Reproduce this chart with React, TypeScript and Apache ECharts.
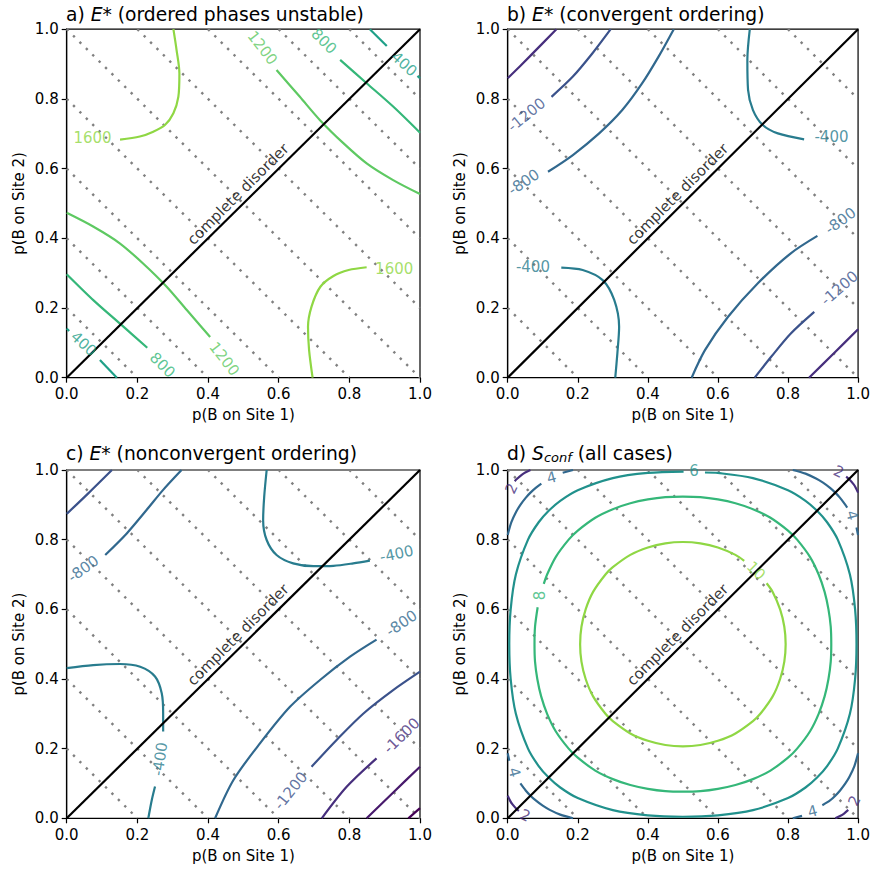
import React, { useEffect, useRef } from 'react';
import * as echarts from 'echarts';

const FONT = "'DejaVu Sans', sans-serif";

// ---------- axes ----------
const tickValues = [0.0, 0.2, 0.4, 0.6, 0.8, 1.0];
const xName = 'p(B on Site 1)';
const yName = 'p(B on Site 2)';

// ---------- guides (dotted lines of constant total composition) ----------
const guideLines = [
  [[0, 0.2], [0.2, 0]],
  [[0, 0.4], [0.4, 0]],
  [[0, 0.6], [0.6, 0]],
  [[0, 0.8], [0.8, 0]],
  [[0, 1.0], [1.0, 0]],
  [[0.2, 1.0], [1.0, 0.2]],
  [[0.4, 1.0], [1.0, 0.4]],
  [[0.6, 1.0], [1.0, 0.6]],
  [[0.8, 1.0], [1.0, 0.8]],
];
const disorderLine = [[0, 0], [1, 1]];
const disorderText = 'complete disorder';
const disorderAnchor = [0.5, 0.5];

// ---------- colours (viridis) ----------
const energyColors: Record<string, string> = {
  '-2400': '#440154', '-2000': '#481a6c', '-1600': '#472f7d', '-1200': '#3b528b',
  '-800': '#31688e', '-400': '#287c8e', '400': '#1fa088', '800': '#35b779',
  '1200': '#5ec962', '1600': '#8fd744',
};
const entropyColors: Record<string, string> = {
  '2': '#472f7d', '4': '#31688e', '6': '#21918c', '8': '#35b779', '10': '#8fd744',
};

// ---------- titles ----------
const titles = [
  '{n|a) }{i|E*}{n| (ordered phases unstable)}',
  '{n|b) }{i|E*}{n| (convergent ordering)}',
  '{n|c) }{i|E*}{n| (nonconvergent ordering)}',
  '{n|d) }{i|S}{sub|conf}{n| (all cases)}',
];

// ---------- panel a ----------
const a1600UL = [[0.302, 1.0], [0.311, 0.94], [0.319, 0.873], [0.316, 0.806], [0.302, 0.759], [0.278, 0.725], [0.245, 0.706], [0.207, 0.692], [0.151, 0.683]];
const a1600LR = [[0.696, 0.0], [0.686, 0.08], [0.683, 0.146], [0.693, 0.204], [0.718, 0.261], [0.755, 0.292], [0.798, 0.309], [0.849, 0.317]];
const a1200UR = [[0.594, 0.883], [0.66, 0.806], [0.717, 0.739], [0.783, 0.673], [0.849, 0.615], [0.924, 0.567], [1.0, 0.527]];
const a1200LL = [[0.0, 0.473], [0.076, 0.433], [0.151, 0.385], [0.217, 0.327], [0.283, 0.261], [0.34, 0.194], [0.406, 0.117]];
const a800UR = [[0.774, 0.912], [0.849, 0.845], [0.924, 0.778], [1.0, 0.703]];
const a800LL = [[0.0, 0.297], [0.076, 0.222], [0.151, 0.155], [0.228, 0.086]];
const a400UR = [[0.858, 1.0], [0.906, 0.952]];
const a400URtip = [[0.993, 0.866], [1.0, 0.859]];
const a400LL = [[0.094, 0.051], [0.142, 0.0]];
const a400LLtip = [[0.0, 0.141], [0.007, 0.134]];
const aContours: [string, number[][]][] = [
  ['1600', a1600UL], ['1600', a1600LR], ['1200', a1200UR], ['1200', a1200LL],
  ['800', a800UR], ['800', a800LL], ['400', a400UR], ['400', a400URtip], ['400', a400LL], ['400', a400LLtip],
];
const aLabels: [number, number, string, number][] = [
  [0.073, 0.689, '1600', 0], [0.927, 0.311, '1600', 0],
  [0.554, 0.946, '1200', -52], [0.446, 0.054, '1200', -52],
  [0.728, 0.965, '800', -45], [0.271, 0.036, '800', -45],
  [0.955, 0.9, '400', -42], [0.048, 0.097, '400', -42],
];

// ---------- panel b ----------
const b1600UL = [[0.0, 0.859], [0.063, 0.922], [0.139, 1.0]];
const b1200UL = [[0.125, 0.806], [0.186, 0.864], [0.242, 0.931], [0.294, 1.0]];
const b800UL = [[0.115, 0.591], [0.186, 0.639], [0.261, 0.701], [0.327, 0.768], [0.384, 0.845], [0.431, 0.922], [0.474, 1.0]];
const b400UR = [[0.691, 1.0], [0.684, 0.912], [0.686, 0.826], [0.7, 0.768], [0.728, 0.725], [0.771, 0.701], [0.846, 0.684]];
const b400LL = [[0.153, 0.316], [0.214, 0.309], [0.271, 0.28], [0.304, 0.223], [0.318, 0.146], [0.313, 0.07], [0.307, 0.0]];
const b800LR = [[0.525, 0.0], [0.563, 0.079], [0.629, 0.175], [0.714, 0.271], [0.808, 0.357], [0.884, 0.407]];
const b1200LR = [[0.705, 0.0], [0.752, 0.06], [0.808, 0.127], [0.875, 0.189]];
const b1600LR = [[0.86, 0.0], [0.931, 0.07], [1.0, 0.139]];
const bContours: [string, number[][]][] = [
  ['-1600', b1600UL], ['-1200', b1200UL], ['-800', b800UL], ['-400', b400UR],
  ['-400', b400LL], ['-800', b800LR], ['-1200', b1200LR], ['-1600', b1600LR],
];
const bLabels: [number, number, string, number][] = [
  [0.054, 0.754, '-1200', 39], [0.046, 0.561, '-800', 34],
  [0.924, 0.692, '-400', 0], [0.072, 0.318, '-400', 0],
  [0.95, 0.45, '-800', 36], [0.947, 0.257, '-1200', 41],
];

// ---------- panel c ----------
const c1200UL = [[0.0, 0.874], [0.061, 0.933], [0.128, 1.0]];
const c800UL = [[0.109, 0.756], [0.17, 0.818], [0.226, 0.885], [0.273, 0.943], [0.325, 1.0]];
const c400UR = [[0.566, 1.0], [0.559, 0.923], [0.556, 0.856], [0.566, 0.799], [0.594, 0.756], [0.641, 0.732], [0.698, 0.724], [0.755, 0.725], [0.811, 0.732], [0.858, 0.74]];
const c400LLa = [[0.0, 0.431], [0.075, 0.44], [0.151, 0.443], [0.208, 0.435], [0.25, 0.407], [0.269, 0.359], [0.273, 0.301], [0.273, 0.249]];
const c400LLb = [[0.25, 0.091], [0.241, 0.053], [0.231, 0.0]];
const c800LR = [[0.42, 0.0], [0.472, 0.11], [0.547, 0.215], [0.632, 0.32], [0.717, 0.397], [0.802, 0.464], [0.877, 0.513]];
const c1200LR = [[0.693, 0.148], [0.764, 0.225], [0.84, 0.301], [0.924, 0.368], [1.0, 0.421]];
const c1600LR = [[0.722, 0.0], [0.793, 0.091], [0.877, 0.172]];
const c2000LR = [[0.849, 0.0], [0.925, 0.075], [1.0, 0.148]];
const c2400LR = [[0.967, 0.0], [1.0, 0.029]];
const cContours: [string, number[][]][] = [
  ['-1200', c1200UL], ['-800', c800UL], ['-400', c400UR], ['-400', c400LLa], ['-400', c400LLb],
  ['-800', c800LR], ['-1200', c1200LR], ['-1600', c1600LR], ['-2000', c2000LR], ['-2400', c2400LR],
];
const cLabels: [number, number, string, number][] = [
  [0.047, 0.716, '-800', 36], [0.934, 0.759, '-400', 12],
  [0.948, 0.56, '-800', 34], [0.264, 0.17, '-400', 82],
  [0.634, 0.079, '-1200', 51], [0.948, 0.237, '-1600', 44],
];

// ---------- panel d ----------
const d10 = [[0.739, 0.675], [0.7563, 0.65], [0.7775, 0.6], [0.7895, 0.55], [0.7933, 0.5], [0.7895, 0.45], [0.7775, 0.4], [0.7563, 0.35], [0.721, 0.3], [0.7, 0.279], [0.65, 0.2437], [0.6, 0.2225], [0.55, 0.2105], [0.5, 0.2067], [0.45, 0.2105], [0.4, 0.2225], [0.35, 0.2437], [0.3, 0.279], [0.279, 0.3], [0.2437, 0.35], [0.2225, 0.4], [0.2105, 0.45], [0.2067, 0.5], [0.2105, 0.55], [0.2225, 0.6], [0.2437, 0.65], [0.279, 0.7], [0.3, 0.721], [0.35, 0.7563], [0.4, 0.7775], [0.45, 0.7895], [0.5, 0.7933], [0.55, 0.7895], [0.6, 0.7775], [0.65, 0.7563], [0.675, 0.739]];
const d8 = [[0.103, 0.673], [0.1125, 0.7], [0.137, 0.75], [0.174, 0.8], [0.2, 0.826], [0.25, 0.863], [0.3, 0.8875], [0.35, 0.9045], [0.4, 0.9155], [0.45, 0.922], [0.5, 0.9235], [0.55, 0.922], [0.6, 0.9155], [0.65, 0.9045], [0.7, 0.8875], [0.75, 0.863], [0.8, 0.826], [0.826, 0.8], [0.863, 0.75], [0.8875, 0.7], [0.9045, 0.65], [0.9155, 0.6], [0.922, 0.55], [0.9235, 0.5], [0.922, 0.45], [0.9155, 0.4], [0.9045, 0.35], [0.8875, 0.3], [0.863, 0.25], [0.826, 0.2], [0.8, 0.174], [0.75, 0.137], [0.7, 0.1125], [0.65, 0.0955], [0.6, 0.0845], [0.55, 0.078], [0.5, 0.0765], [0.45, 0.078], [0.4, 0.0845], [0.35, 0.0955], [0.3, 0.1125], [0.25, 0.137], [0.2, 0.174], [0.174, 0.2], [0.137, 0.25], [0.1125, 0.3], [0.0955, 0.35], [0.0845, 0.4], [0.078, 0.45], [0.0765, 0.5], [0.078, 0.55], [0.0855, 0.606]];
const d6 = [[0.563, 0.9928], [0.6, 0.9915], [0.7, 0.9767], [0.8, 0.942], [0.85, 0.9116], [0.883, 0.883], [0.9116, 0.85], [0.942, 0.8], [0.9767, 0.7], [0.9915, 0.6], [0.9955, 0.5], [0.9915, 0.4], [0.9767, 0.3], [0.942, 0.2], [0.9116, 0.15], [0.883, 0.117], [0.85, 0.0884], [0.8, 0.058], [0.7, 0.0233], [0.6, 0.0085], [0.5, 0.0045], [0.4, 0.0085], [0.3, 0.0233], [0.2, 0.058], [0.15, 0.0884], [0.117, 0.117], [0.0884, 0.15], [0.058, 0.2], [0.0233, 0.3], [0.0085, 0.4], [0.0045, 0.5], [0.0085, 0.6], [0.0233, 0.7], [0.058, 0.8], [0.0884, 0.85], [0.117, 0.883], [0.15, 0.9116], [0.2, 0.942], [0.3, 0.9767], [0.4, 0.9915], [0.502, 0.9955]];
const d4BLa = [[0.0362, 0.1], [0.0513, 0.08], [0.065, 0.065], [0.08, 0.0513], [0.1, 0.0362], [0.12, 0.0242], [0.15, 0.0105], [0.1865, 0.0]];
const d4BLb = [[0.0045, 0.165], [0.0, 0.1865]];
const d4TLa = [[0.0, 0.8135], [0.0105, 0.85], [0.0242, 0.88], [0.0362, 0.9], [0.0513, 0.92], [0.065, 0.935], [0.08, 0.9487], [0.096, 0.961]];
const d4TLb = [[0.157, 0.992], [0.1865, 1.0]];
const d4TRa = [[0.8135, 1.0], [0.85, 0.9895], [0.88, 0.9758], [0.9, 0.9638], [0.92, 0.9487], [0.935, 0.935], [0.9487, 0.92], [0.9638, 0.9], [0.969, 0.892]];
const d4TRb = [[0.9955, 0.835], [1.0, 0.8135]];
const d4BRa = [[0.8135, 0.0], [0.84, 0.007]];
const d4BRb = [[0.898, 0.0375], [0.92, 0.0513], [0.935, 0.065], [0.9487, 0.08], [0.9638, 0.1], [0.9758, 0.12], [0.9895, 0.15], [1.0, 0.1865]];
const d2BL = [[0.0, 0.065], [0.0071, 0.05], [0.0137, 0.04], [0.026, 0.026], [0.032, 0.021]];
const d2TL = [[0.02, 0.968], [0.026, 0.974], [0.04, 0.9863], [0.05, 0.9929], [0.065, 1.0]];
const d2TR = [[0.966, 0.981], [0.974, 0.974], [0.9863, 0.96], [0.9929, 0.95], [1.0, 0.935]];
const d2BR = [[0.935, 0.0], [0.95, 0.0071], [0.96, 0.0137], [0.972, 0.024]];
const dContours: [string, number[][]][] = [
  ['10', d10], ['8', d8], ['6', d6],
  ['4', d4BLa], ['4', d4BLb], ['4', d4TLa], ['4', d4TLb], ['4', d4TRa], ['4', d4TRb], ['4', d4BRa], ['4', d4BRb],
  ['2', d2BL], ['2', d2TL], ['2', d2TR], ['2', d2BR],
];
const dLabels: [number, number, string, number][] = [
  [0.709, 0.711, '10', -45], [0.092, 0.64, '8', 90], [0.532, 0.996, '6', 0],
  [0.125, 0.978, '4', 15], [0.983, 0.87, '4', -75], [0.87, 0.02, '4', 15], [0.019, 0.132, '4', -75],
  [0.011, 0.947, '2', 65], [0.945, 0.995, '2', -25], [0.99, 0.05, '2', 65], [0.05, 0.008, '2', -25],
];

const panels = [
  { contours: aContours, labels: aLabels, colors: energyColors },
  { contours: bContours, labels: bLabels, colors: energyColors },
  { contours: cContours, labels: cLabels, colors: energyColors },
  { contours: dContours, labels: dLabels, colors: entropyColors },
];

const gridRects = [
  { left: 66.7, top: 29.2, width: 353.3, height: 348.5 },
  { left: 507.7, top: 29.2, width: 353.3, height: 348.5 },
  { left: 66.7, top: 470, width: 353.3, height: 348.3 },
  { left: 507.7, top: 470, width: 353.3, height: 348.3 },
];
const titlePos = [
  { left: 66, top: 3 },
  { left: 507, top: 3 },
  { left: 66, top: 442 },
  { left: 507, top: 442 },
];

function buildOption() {
  const grid: any[] = [];
  const xAxis: any[] = [];
  const yAxis: any[] = [];
  const series: any[] = [];
  const title: any[] = [];
  const axisCommon = {
    type: 'value', min: tickValues[0], max: tickValues[tickValues.length - 1],
    interval: tickValues[1] - tickValues[0],
    axisLine: { show: true, onZero: false, lineStyle: { color: '#000', width: 1.2 } },
    axisTick: { show: true, length: 5, inside: false, lineStyle: { color: '#000', width: 1.2 } },
    splitLine: { show: false },
    nameLocation: 'middle',
    nameTextStyle: { fontSize: 15, color: '#000', fontFamily: FONT },
  };
  const base = { fontFamily: FONT, color: '#000', fontWeight: 'normal' };
  const rich = {
    n: { ...base, fontSize: 18.7, lineHeight: 22 },
    i: { ...base, fontSize: 18.7, fontStyle: 'italic', lineHeight: 22 },
    sub: { ...base, fontSize: 13, fontStyle: 'italic', verticalAlign: 'bottom', lineHeight: 15 },
  };
  panels.forEach((p, i) => {
    grid.push({ ...gridRects[i], show: true, borderColor: '#000', borderWidth: 1.2, backgroundColor: 'transparent' });
    xAxis.push({
      ...axisCommon, gridIndex: i, name: xName, nameGap: 30,
      axisLabel: { fontSize: 15, color: '#000', fontFamily: FONT, margin: 9, formatter: (v: number) => v.toFixed(1) },
    });
    yAxis.push({
      ...axisCommon, gridIndex: i, name: yName, nameGap: 40,
      axisLabel: { fontSize: 15, color: '#000', fontFamily: FONT, margin: 8, formatter: (v: number) => v.toFixed(1) },
    });
    title.push({ ...titlePos[i], padding: 0, text: titles[i], textStyle: { ...base, fontSize: 18.7, rich } });
    guideLines.forEach((seg) => series.push({
      type: 'line', xAxisIndex: i, yAxisIndex: i, data: seg, symbol: 'none', silent: true, z: 1,
      lineStyle: { color: '#808080', width: 2.4, type: [2.4, 6.6] },
    }));
    p.contours.forEach(([lvl, seg]) => series.push({
      type: 'line', xAxisIndex: i, yAxisIndex: i, data: seg, symbol: 'none', silent: true, z: 2,
      smooth: 0.3, lineStyle: { color: p.colors[lvl], width: 2.2 },
    }));
    series.push({
      type: 'line', xAxisIndex: i, yAxisIndex: i, data: disorderLine, symbol: 'none', silent: true, z: 3,
      lineStyle: { color: '#000', width: 2.2 },
    });
    series.push({
      type: 'scatter', xAxisIndex: i, yAxisIndex: i, symbolSize: 0, silent: true, z: 4,
      data: p.labels.map(([x, y, t, r]) => ({
        value: [x, y],
        label: { formatter: t, rotate: r, color: p.colors[t] },
      })),
      label: { show: true, position: 'inside', fontSize: 15, fontFamily: FONT },
    });
    series.push({
      type: 'scatter', xAxisIndex: i, yAxisIndex: i, symbolSize: 0, silent: true, z: 4,
      data: [{ value: disorderAnchor }],
      label: {
        show: true, formatter: disorderText, position: 'top', distance: 4, rotate: 45,
        fontSize: 15, fontFamily: FONT, color: '#000',
      },
    });
  });
  return { animation: false, backgroundColor: '#fff', title, grid, xAxis, yAxis, series };
}

export default function App() {
  const ref = useRef<HTMLDivElement>(null);
  useEffect(() => {
    if (!ref.current) return;
    const chart = echarts.init(ref.current, undefined, { renderer: 'svg' });
    chart.setOption(buildOption() as any);
    return () => chart.dispose();
  }, []);
  return <div ref={ref} style={{ position: 'fixed', left: 0, top: 0, width: 873, height: 873, background: '#fff' }} />;
}
